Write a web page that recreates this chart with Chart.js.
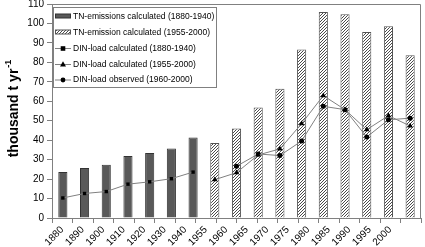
<!DOCTYPE html>
<html>
<head>
<meta charset="utf-8">
<script src="https://cdn.jsdelivr.net/npm/chart.js@4/dist/chart.umd.min.js"></script>
<style>
  body { margin: 0; background: #fff; }
  #wrap { width: 425px; height: 247px; }
</style>
</head>
<body>
<div id="wrap"><canvas id="chart" width="425" height="247"></canvas></div>
<script>
// categories (bars sit between the tick marks, label on the left tick)
const years = ['1880', '1890', '1900', '1910', '1920', '1930', '1940', '1955', '1960',
    '1965', '1970', '1975', '1980', '1985', '1990', '1995', '2000'];

// TN emissions, thousand t/yr
const tnEarly = [23.6, 25.7, 27.4, 31.9, 33.4, 35.7, 41.4];                       // 1880-1940
const tnLate = [38.6, 46.0, 56.8, 66.5, 86.6, 105.9, 104.7, 95.6, 98.6, 83.7];    // 1955-2000

// DIN load, thousand t/yr
const dinEarly = [10.3, 12.6, 13.6, 17.4, 18.6, 20.2, 23.6];                      // 1880-1940
const dinLate = [19.7, 23.3, 32.4, 35.5, 48.5, 62.9, 55.7, 45.4, 52.6, 47.3];     // 1955-2000
const dinObs = [26.6, 32.9, 32.1, 39.6, 57.4, 55.7, 41.6, 50.5, 51.3];            // 1960-2000

const yTicks = [0, 10, 20, 30, 40, 50, 60, 70, 80, 90, 100, 110];

const legendLabels = [
    'TN-emissions calculated (1880-1940)',
    'TN-emission calculated (1955-2000)',
    'DIN-load calculated (1880-1940)',
    'DIN-load calculated (1955-2000)',
    'DIN-load observed (1960-2000)'
];

// pad a series with nulls so it lines up with the year list
function place(values, start) {
    const out = years.map(() => null);
    values.forEach((v, i) => { out[start + i] = v; });
    return out;
}

// diagonal hatching for the 1955-2000 bars
function hatch() {
    const s = 3;
    const c = document.createElement('canvas');
    c.width = s; c.height = s;
    const g = c.getContext('2d');
    g.fillStyle = '#fff';
    g.fillRect(0, 0, s, s);
    g.strokeStyle = '#4a4a4a';
    g.lineWidth = 1;
    g.beginPath();
    g.moveTo(0, s); g.lineTo(s, 0);
    g.moveTo(-1, 1); g.lineTo(1, -1);
    g.moveTo(s - 1, s + 1); g.lineTo(s + 1, s - 1);
    g.stroke();
    return g.createPattern(c, 'repeat');
}

const ctx = document.getElementById('chart').getContext('2d');
const hatchFill = hatch();
const darkFill = '#595959';
const lineGrey = '#808080';
const axisGrey = '#808080';
const font = 'Liberation Sans, Arial, sans-serif';

function drawMarker(g, style, x, y) {
    g.fillStyle = '#000';
    g.beginPath();
    if (style === 'rect') {
        g.rect(x - 2.3, y - 2.3, 4.6, 4.6);
    } else if (style === 'triangle') {
        g.moveTo(x, y - 3.2);
        g.lineTo(x + 3, y + 2);
        g.lineTo(x - 3, y + 2);
        g.closePath();
    } else {
        g.arc(x, y, 2.4, 0, Math.PI * 2);
    }
    g.fill();
}

// frame, y title and the boxed legend
const extras = {
    id: 'extras',
    afterDraw(chart) {
        const g = chart.ctx;
        const a = chart.chartArea;
        g.save();

        // top and right edges of the plot frame
        g.strokeStyle = axisGrey;
        g.lineWidth = 1;
        g.beginPath();
        g.moveTo(a.left, a.top + 0.5);
        g.lineTo(a.right - 0.5, a.top + 0.5);
        g.lineTo(a.right - 0.5, a.bottom);
        g.stroke();

        // y axis title with superscript
        g.save();
        g.translate(18, 113);
        g.rotate(-Math.PI / 2);
        g.fillStyle = '#000';
        g.font = 'bold 14px ' + font;
        g.textAlign = 'center';
        g.textBaseline = 'alphabetic';
        const main = 'thousand t yr';
        g.fillText(main, 0, 0);
        const w = g.measureText(main).width;
        g.font = 'bold 9px ' + font;
        g.textAlign = 'left';
        g.fillText('-1', w / 2 + 1, -7);
        g.restore();

        // legend box
        g.fillStyle = '#fff';
        g.fillRect(53.5, 7.5, 163, 80);
        g.strokeStyle = axisGrey;
        g.strokeRect(53.5, 7.5, 163, 80);

        const rows = [16, 32, 48, 64, 79.5];
        const kinds = ['dark', 'hatch', 'rect', 'triangle', 'circle'];
        rows.forEach((y, i) => {
            const k = kinds[i];
            if (k === 'dark' || k === 'hatch') {
                g.fillStyle = k === 'dark' ? darkFill : hatchFill;
                g.fillRect(55.5, y - 2, 15, 4);
                g.strokeStyle = k === 'dark' ? '#333' : '#555';
                g.strokeRect(55.5, y - 2, 15, 4);
            } else {
                g.strokeStyle = lineGrey;
                g.beginPath();
                g.moveTo(55, y + 0.5);
                g.lineTo(71, y + 0.5);
                g.stroke();
                drawMarker(g, k, 63, y + 0.5);
            }
            g.fillStyle = '#000';
            g.font = '8.5px ' + font;
            g.textAlign = 'left';
            g.textBaseline = 'middle';
            g.fillText(legendLabels[i], 73, y + 0.5);
        });

        g.restore();
    }
};

new Chart(ctx, {
    type: 'bar',
    data: {
        labels: years,
        datasets: [
            {
                label: legendLabels[0],
                data: place(tnEarly, 0),
                backgroundColor: darkFill,
                borderColor: '#333',
                borderWidth: 1,
                grouped: false,
                barPercentage: 0.42,
                categoryPercentage: 1,
                order: 2
            },
            {
                label: legendLabels[1],
                data: place(tnLate, 7),
                backgroundColor: hatchFill,
                borderColor: '#555',
                borderWidth: 1,
                grouped: false,
                barPercentage: 0.42,
                categoryPercentage: 1,
                order: 2
            },
            {
                type: 'line',
                label: legendLabels[2],
                data: place(dinEarly, 0),
                borderColor: lineGrey,
                borderWidth: 1,
                pointStyle: 'rect',
                pointRadius: 2.4,
                pointBackgroundColor: '#000',
                pointBorderColor: '#000',
                pointBorderWidth: 0,
                order: 1
            },
            {
                type: 'line',
                label: legendLabels[3],
                data: place(dinLate, 7),
                borderColor: lineGrey,
                borderWidth: 1,
                pointStyle: 'triangle',
                pointRadius: 3.2,
                pointBackgroundColor: '#000',
                pointBorderColor: '#000',
                pointBorderWidth: 0,
                order: 1
            },
            {
                type: 'line',
                label: legendLabels[4],
                data: place(dinObs, 8),
                borderColor: lineGrey,
                borderWidth: 1,
                pointStyle: 'circle',
                pointRadius: 2.5,
                pointBackgroundColor: '#000',
                pointBorderColor: '#000',
                pointBorderWidth: 0,
                order: 1
            }
        ]
    },
    options: {
        responsive: false,
        animation: false,
        layout: { padding: { top: 4, right: 1, left: 0, bottom: 0 } },
        plugins: { legend: { display: false }, tooltip: { enabled: false } },
        scales: {
            x: {
                type: 'category',
                display: false,
                offset: true
            },
            xt: {
                type: 'linear',
                position: 'bottom',
                min: 0,
                max: years.length,
                grid: { drawOnChartArea: false, drawTicks: true, tickLength: 5, color: axisGrey },
                border: { color: axisGrey },
                ticks: {
                    stepSize: 1,
                    autoSkip: false,
                    minRotation: 45,
                    maxRotation: 45,
                    padding: 1,
                    color: '#000',
                    font: { family: font, size: 10 },
                    callback: (v) => years[v] || ''
                },
                afterFit(scale) {
                    scale.height = 29;
                    scale.paddingLeft = 0;
                    scale.paddingRight = 0;
                }
            },
            y: {
                min: 0,
                max: 110,
                afterBuildTicks(scale) {
                    scale.ticks = yTicks.map(v => ({ value: v }));
                },
                grid: { drawOnChartArea: false, drawTicks: true, tickLength: 5, color: axisGrey },
                border: { color: axisGrey },
                ticks: {
                    padding: 3,
                    color: '#000',
                    font: { family: font, size: 10 }
                },
                afterFit(scale) {
                    scale.width = 52;
                    scale.paddingTop = 0;
                    scale.paddingBottom = 0;
                }
            }
        }
    },
    plugins: [extras]
});
</script>
</body>
</html>
